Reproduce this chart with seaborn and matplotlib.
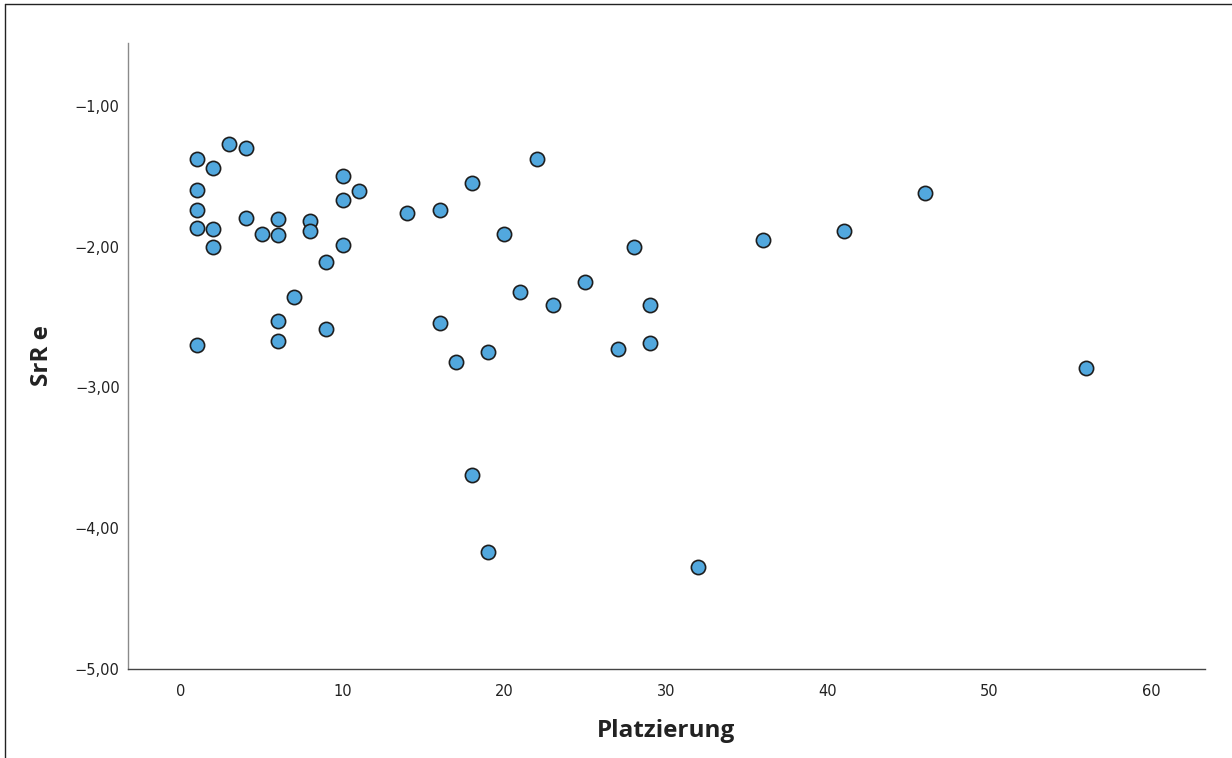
import matplotlib
matplotlib.use("Agg")
import matplotlib.pyplot as plt
from matplotlib.lines import Line2D
import seaborn as sns
import pandas as pd

platzierung = [1, 1, 1, 1, 1, 2, 2, 2, 3, 4, 4, 5, 6, 6, 6, 6, 7, 8, 8, 9, 9,
               10, 10, 10, 11, 14, 16, 16, 17, 18, 18, 19, 19, 20, 21, 22, 23,
               25, 27, 28, 29, 29, 32, 36, 41, 46, 56]
srr_e = [-1.376, -1.597, -1.739, -1.867, -2.70, -1.44, -1.874, -2.00, -1.27,
         -1.30, -1.795, -1.91, -1.80, -1.916, -2.53, -2.67, -2.357, -1.82,
         -1.89, -2.108, -2.584, -1.497, -1.668, -1.987, -1.604, -1.76, -1.739,
         -2.54, -2.82, -1.547, -3.62, -2.747, -4.168, -1.91, -2.32, -1.376,
         -2.413, -2.25, -2.726, -2.00, -2.413, -2.683, -4.274, -1.95, -1.888,
         -1.618, -2.86]
x_ticks = [0, 10, 20, 30, 40, 50, 60]
y_ticks = [-5, -4, -3, -2, -1]
y_tick_labels = ["\u22125,00", "\u22124,00", "\u22123,00", "\u22122,00", "\u22121,00"]

df = pd.DataFrame({"Platzierung": platzierung, "SrR e": srr_e})

sns.set_theme(style="white")
plt.rcParams["font.family"] = ["DejaVu Sans"]

W, H = 1232, 758
fig = plt.figure(figsize=(W / 100, H / 100), dpi=100)
ax = fig.add_axes([128 / W, 1 - 669 / H, (1205 - 128) / W, (669 - 43) / H])

sns.scatterplot(data=df, x="Platzierung", y="SrR e", ax=ax, s=105,
                color="#52a8de", edgecolor="#1e1e1e", linewidth=1.2, zorder=3)

ax.set_xlim(-3.27, 63.33)
ax.set_ylim(-5.0, -0.553)
ax.set_xticks(x_ticks)
ax.set_xticklabels([str(t) for t in x_ticks])
ax.set_yticks(y_ticks)
ax.set_yticklabels(y_tick_labels)
ax.tick_params(axis="both", length=0, labelsize=10.5, colors="#222222")
ax.tick_params(axis="x", pad=11)
ax.tick_params(axis="y", pad=6)

for side in ["top", "right"]:
    ax.spines[side].set_visible(False)
ax.spines["left"].set_color("#8a8a8a")
ax.spines["left"].set_linewidth(1.0)
ax.spines["bottom"].set_color("#444444")
ax.spines["bottom"].set_linewidth(1.0)

ax.set_xlabel("")
ax.set_ylabel("")
fig.text(666 / W, 1 - 731 / H, "Platzierung", ha="center", va="center",
         fontsize=17.5, fontweight="bold", family=["Open Sans", "DejaVu Sans"],
         color="#222222")
fig.text(42 / W, 1 - 356 / H, "SrR e", ha="center", va="center", rotation=90,
         fontsize=17.5, fontweight="bold", family=["Open Sans", "DejaVu Sans"],
         color="#222222")

# outer frame (left and top edges)
fig.add_artist(Line2D([5 / W, 5 / W], [0, 1 - 4 / H], transform=fig.transFigure,
                      color="#222222", linewidth=1.0))
fig.add_artist(Line2D([5 / W, 1], [1 - 4 / H, 1 - 4 / H], transform=fig.transFigure,
                      color="#222222", linewidth=1.0))

fig.savefig("out.png", dpi=100, facecolor="white")
